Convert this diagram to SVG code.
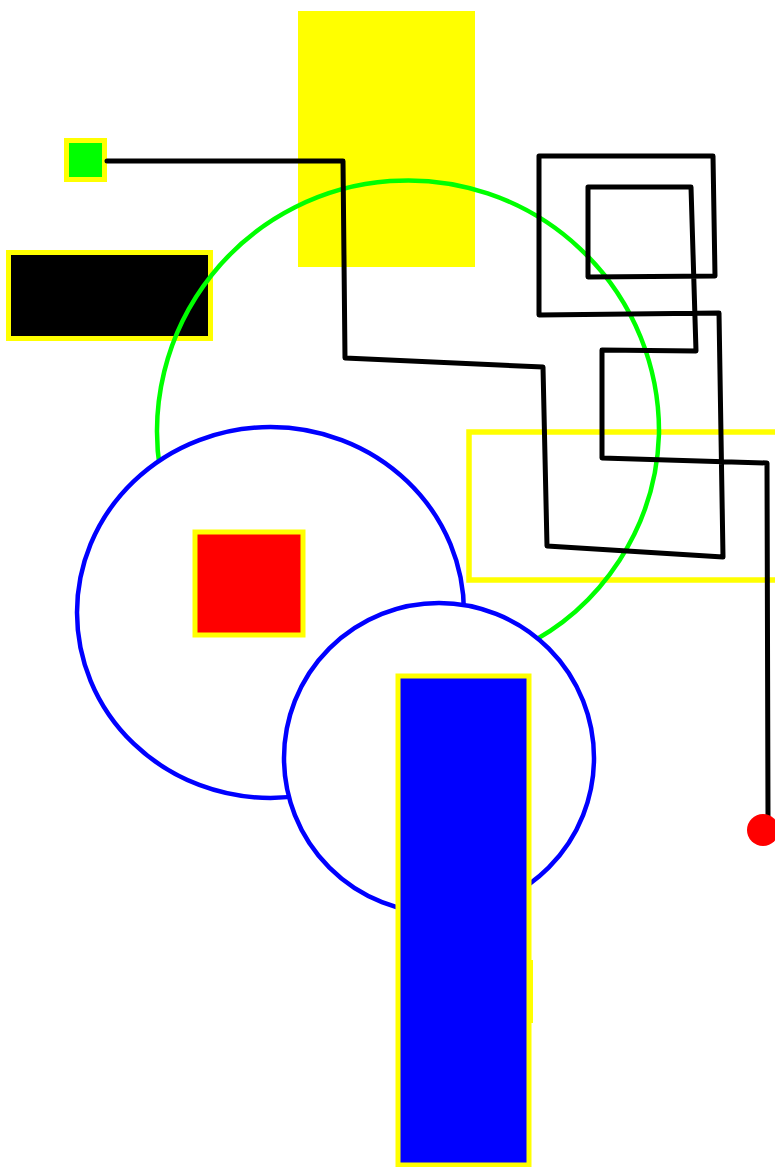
<svg xmlns="http://www.w3.org/2000/svg" width="775" height="1167" viewBox="0 0 775 1167">
  <style>
    .ybox { stroke: #ffff00; stroke-width: 5; }
    .blue-ring { fill: #ffffff; stroke: #0000ff; stroke-width: 4.5; }
    .wire { fill: none; stroke: #000000; stroke-width: 5; stroke-linejoin: round; stroke-linecap: round; }
  </style>
  <rect width="775" height="1167" fill="#ffffff"/>
  <g id="yellow-block">
    <rect x="298" y="11" width="177" height="256" fill="#ffff00"/>
  </g>
  <g id="black-box">
    <rect class="ybox" x="8.5" y="252.5" width="202" height="86" fill="#000000"/>
  </g>
  <g id="yellow-frame">
    <rect x="469" y="432" width="320" height="148" fill="none" stroke="#ffff00" stroke-width="5.5"/>
  </g>
  <g id="green-ring">
    <path d="M160,470 A251,251 0 1 1 659,434 A246,246 0 0 1 520,648" fill="none" stroke="#00ff00" stroke-width="4.5"/>
  </g>
  <g id="blue-ring-left">
    <ellipse class="blue-ring" cx="270.5" cy="612.5" rx="193.5" ry="185.5"/>
  </g>
  <g id="red-box">
    <rect class="ybox" x="195" y="532" width="108" height="103" fill="#ff0000" stroke-width="6"/>
  </g>
  <g id="blue-ring-right">
    <circle class="blue-ring" cx="439" cy="758" r="155"/>
  </g>
  <g id="blue-bar">
    <rect x="529" y="960" width="4" height="63" fill="#ffff00"/>
    <rect class="ybox" x="398" y="676" width="131" height="489" fill="#0000ff" stroke-width="6"/>
  </g>
  <g id="green-box">
    <rect class="ybox" x="66.5" y="140.5" width="38" height="39" fill="#00ff00"/>
  </g>
  <g id="connectors">
    <polyline class="wire" points="107,161 343,161 345,358 543,367 547,546 723,557 719,313 539,315 539,156 713,156 715,276 588,277 588,187 691,187 696,351 602,350 602,458 767,463 768,818"/>
  </g>
  <g id="red-dot">
    <circle cx="763" cy="830" r="16" fill="#ff0000"/>
  </g>
</svg>
